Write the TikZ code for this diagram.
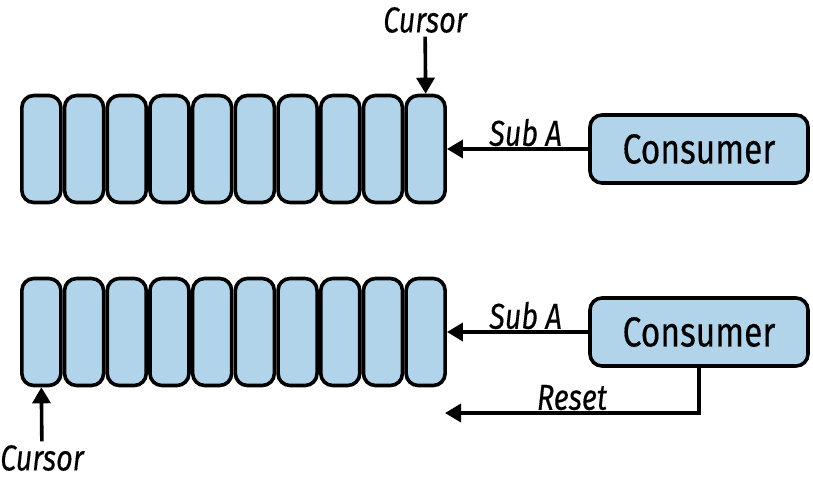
\documentclass[tikz,border=0pt]{standalone}
\usepackage{fontspec}
\setmainfont{Fira Sans}[FakeStretch=0.8,FakeBold=0.3]
\usetikzlibrary{arrows.meta}
\definecolor{cellblue}{RGB}{178,212,235}

\begin{document}
\begin{tikzpicture}[x=1pt,y=-1pt,
    line width=3.6pt,
    cell/.style={draw, fill=cellblue, rounded corners=12pt,
        minimum width=39pt, minimum height=107pt, inner sep=0pt},
    consumer/.style={draw, fill=cellblue, rounded corners=12pt,
        minimum width=218pt, minimum height=68pt, inner sep=0pt,
        font=\fontsize{42}{46}\selectfont},
    lbl/.style={font=\fontsize{36}{40}\selectfont\itshape, inner sep=2pt},
    tip/.style={-{Triangle[length=16pt,width=18pt]}}
    ]
\useasboundingbox (0,0) rectangle (813,479);

% The two queues
\foreach \i in {1,...,10}{
    \node[cell] (qa\i) at ({41.35+42.7*(\i-1)},149) {};
    \node[cell] (qb\i) at ({41.35+42.7*(\i-1)},332) {};
}

% The consumers
\node[consumer] (cona) at (699,149) {Consumer};
\node[consumer] (conb) at (699,332) {Consumer};

% Cursors
\node[lbl] (cura) at (425,20) {Cursor};
\node[lbl] (curb) at (42,458) {Cursor};
\draw[tip] (cura) -- (qa10.north);
\draw[tip] (curb) -- (qb1.south);

% Subscriptions
\draw[tip] (cona) -- (qa10.east)
    node[lbl, midway, above, xshift=8pt, yshift=-1pt] {Sub A};
\draw[tip] (conb) -- (qb10.east)
    node[lbl, midway, above, xshift=8pt, yshift=-1pt] {Sub A};

% Reset
\coordinate (rst) at (445,413);
\draw[tip] (conb.south) |- (rst)
    node[lbl, pos=0.75, above, yshift=-1pt] {Reset};

\end{tikzpicture}
\end{document}
